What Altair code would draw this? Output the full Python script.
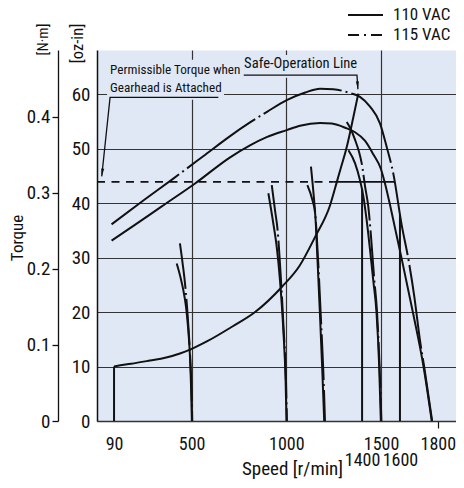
import altair as alt
import pandas as pd

FONT = "Roboto Condensed, Liberation Sans Narrow, Liberation Sans, Arial, sans-serif"
BG = "#e1e8f5"
INK = "#111111"
GRID = "#333333"

X_MAX = 1896      # r/min at right edge of plot
Y_MAX = 68.1      # oz-in at top of plot
NM_MAX = 0.4877   # N·m at top of plot

# ---- max torque curves (oz-in vs r/min) ----
HUMP110_SPEED = [77, 200, 342, 518, 703, 808, 896, 1002, 1072, 1178, 1240, 1319, 1363, 1416, 1460, 1499, 1521, 1548, 1574, 1609, 1671, 1724, 1768]
HUMP110_TORQUE = [33.1, 36.0, 39.4, 43.6, 48.4, 50.6, 52.1, 53.4, 54.2, 54.7, 54.6, 53.7, 53.0, 51.4, 48.9, 46.3, 43.6, 39.6, 35.4, 29.8, 19.5, 10.1, 0.0]
HUMP115_SPEED = [77, 250, 403, 561, 703, 808, 900, 1002, 1100, 1178, 1248, 1336, 1389, 1442, 1495, 1530, 1565, 1609, 1645, 1676, 1705, 1730, 1770]
HUMP115_TORQUE = [36.1, 40.6, 44.5, 48.6, 52.3, 54.8, 56.8, 58.9, 60.3, 61.0, 60.9, 60.2, 59.5, 57.7, 54.6, 50.3, 45.4, 36.0, 29.6, 22.8, 15.0, 9.5, 0.0]

# ---- speed-control curves ----
P500_110_SPEED = [421, 440, 456, 470, 482, 491, 497, 501]
P500_110_TORQUE = [28.9, 26.5, 24.0, 21.0, 16.7, 11.8, 6.0, 0.0]
P500_115_SPEED = [438, 452, 464, 474, 484, 492, 499, 503]
P500_115_TORQUE = [32.6, 29.0, 25.5, 21.6, 16.7, 11.8, 6.0, 0.0]

P1000_110_SPEED = [905, 931, 949, 966, 984, 996, 1001]
P1000_110_TORQUE = [41.8, 36.3, 32.0, 26.0, 16.7, 7.5, 0.0]
P1000_115_SPEED = [923, 940, 954, 968, 986, 998, 1003]
P1000_115_TORQUE = [43.3, 38.7, 35.0, 28.0, 16.7, 7.5, 0.0]

P1200_110_SPEED = [1111, 1138, 1152, 1164, 1177, 1189, 1200]
P1200_110_TORQUE = [43.3, 40.5, 38.1, 30.0, 20.0, 10.0, 0.0]
P1200_115_SPEED = [1130, 1146, 1158, 1169, 1182, 1195, 1204]
P1200_115_TORQUE = [46.7, 40.8, 35.5, 28.7, 19.2, 9.4, 0.0]

P1500_110_SPEED = [1328, 1363, 1389, 1407, 1424, 1442, 1460, 1476, 1490, 1499]
P1500_110_TORQUE = [49.7, 47.3, 44.2, 41.2, 36.9, 31.4, 25.5, 20.0, 10.3, 0.0]
P1500_115_SPEED = [1319, 1340, 1363, 1383, 1398, 1416, 1433, 1448, 1463, 1479, 1492, 1502]
P1500_115_TORQUE = [54.9, 53.6, 51.6, 49.5, 47.3, 43.0, 39.3, 33.5, 26.5, 20.0, 10.3, 0.0]

# ---- safe-operation line ----
SAFE_SPEED = [90, 104, 180, 280, 360, 438, 491, 580, 713, 835, 976, 1070, 1152, 1231, 1266, 1284, 1319, 1354, 1380]
SAFE_TORQUE = [10.0, 10.1, 10.5, 11.1, 11.6, 12.4, 13.1, 14.6, 17.3, 20.0, 24.6, 28.5, 33.8, 39.6, 43.8, 46.0, 50.3, 55.8, 60.1]

# ---- vertical lines ----
VLINE_SPEED = [90, 1400, 1600]
VLINE_TOP = [10.0, 42.6, 37.9]

# ---- permissible torque with gearhead (0.31 N·m) ----
PERM_TORQUE = 43.9
PERM_DASH_SPEED = [0, 1250]
PERM_SOLID_SPEED = [1250, 1569]

# ---- annotations ----
ANNOT_TEXT = ["Permissible Torque when", "Gearhead is Attached", "Safe-Operation Line"]
ANNOT_SPEED = [69, 69, 777]
ANNOT_TORQUE = [64.5, 61.1, 65.6]
ANNOT_SIZE = [13.2, 13.2, 14.6]
BOX_SPEED0 = [53, 53, 766]
BOX_SPEED1 = [761, 671, 1389]
BOX_TORQUE0 = [62.6, 58.95, 63.0]
BOX_TORQUE1 = [66.3, 62.6, 67.2]
LEADER_ID = ["g", "g", "g", "s", "s", "s"]
LEADER_SPEED = [641, 69, 25, 775, 1373, 1378]
LEADER_TORQUE = [59.4, 59.4, 44.9, 63.5, 63.5, 60.9]
ARROW_SPEED = [27.6, 1376.5]
ARROW_TORQUE = [45.6, 61.6]
ARROW_ANGLE = [7, 356]

LEGEND_LABELS = ["110 VAC", "115 VAC"]

X_TICKS = [90, 500, 1000, 1400, 1500, 1600, 1800]
OZ_TICKS = [0, 10, 20, 30, 40, 50, 60]
NM_TICKS = [0, 0.1, 0.2, 0.3, 0.4]

XS = alt.Scale(domain=[0, X_MAX], nice=False, zero=False)
YS = alt.Scale(domain=[0, Y_MAX], nice=False, zero=False)

XAX = alt.Axis(
    values=X_TICKS, format="d", title="Speed [r/min]", grid=True, gridColor=GRID, gridWidth=1.2,
    gridOpacity={"condition": {"test": "datum.value == 500 || datum.value == 1000 || datum.value == 1500", "value": 1}, "value": 0},
    ticks=True, tickSize=7, tickColor=INK, tickWidth=1.2,
    tickOpacity={"condition": {"test": "datum.value == 1800", "value": 1}, "value": 0},
    labelPadding={"condition": {"test": "datum.value == 1400 || datum.value == 1600", "value": 23}, "value": 7},
    labelFontSize=18, labelOverlap=False, labelFlush=False, labelBound=False,
    domain=True, domainColor=GRID, domainWidth=1.3,
    titleX=195, titleY=53, titleAlign="center", titleBaseline="alphabetic",
)
YAX = alt.Axis(
    values=OZ_TICKS, title="[oz-in]", orient="left", grid=True, gridColor=GRID, gridWidth=1.2,
    ticks=False, labelPadding=7, domain=True, domainColor=INK, domainWidth=1.5,
    titleX=-20, titleY=-7, titleAngle=270, titleAlign="center", titleBaseline="middle", titleFontSize=16.5,
)


def X(field):
    return alt.X(field, scale=XS, axis=XAX)


def Y(field):
    return alt.Y(field, scale=YS, axis=YAX)


def curve_df(name, speeds, torques):
    return pd.DataFrame({"curve": name, "speed": speeds, "torque": torques,
                         "i": list(range(len(speeds)))})


solid_df = pd.concat([
    curve_df("h110", HUMP110_SPEED, HUMP110_TORQUE),
    curve_df("p500", P500_110_SPEED, P500_110_TORQUE),
    curve_df("p1000", P1000_110_SPEED, P1000_110_TORQUE),
    curve_df("p1200", P1200_110_SPEED, P1200_110_TORQUE),
    curve_df("p1500", P1500_110_SPEED, P1500_110_TORQUE),
])
dashpair_df = pd.concat([
    curve_df("q500", P500_115_SPEED, P500_115_TORQUE),
    curve_df("q1000", P1000_115_SPEED, P1000_115_TORQUE),
    curve_df("q1200", P1200_115_SPEED, P1200_115_TORQUE),
    curve_df("q1500", P1500_115_SPEED, P1500_115_TORQUE),
])
hump115_df = curve_df("h115", HUMP115_SPEED, HUMP115_TORQUE)
safe_df = curve_df("safe", SAFE_SPEED, SAFE_TORQUE)


def lines(df, dash=None, width=2.0, interp="monotone"):
    kw = dict(color=INK, strokeWidth=width, interpolate=interp, strokeCap="butt")
    if dash:
        kw["strokeDash"] = dash
    return alt.Chart(df).mark_line(**kw).encode(
        x=X("speed:Q"), y=Y("torque:Q"), detail="curve:N", order="i:Q")


boxes = alt.Chart(pd.DataFrame({"speed": BOX_SPEED0, "s1": BOX_SPEED1, "torque": BOX_TORQUE0, "t1": BOX_TORQUE1})).mark_rect(
    fill=BG).encode(x=X("speed:Q"), x2="s1:Q", y=Y("torque:Q"), y2="t1:Q")

vlines = alt.Chart(pd.DataFrame({"speed": VLINE_SPEED, "t1": VLINE_TOP, "torque": [0] * len(VLINE_SPEED)})).mark_rule(
    color=INK, strokeWidth=2).encode(x=X("speed:Q"), y=Y("torque:Q"), y2="t1:Q")

perm_dash = alt.Chart(pd.DataFrame({"speed": PERM_DASH_SPEED, "torque": PERM_TORQUE, "i": [0, 1]})).mark_line(
    color=INK, strokeWidth=1.7, strokeDash=[8, 6.5]).encode(x=X("speed:Q"), y=Y("torque:Q"), order="i:Q")
perm_solid = alt.Chart(pd.DataFrame({"speed": PERM_SOLID_SPEED, "torque": PERM_TORQUE, "i": [0, 1]})).mark_line(
    color=INK, strokeWidth=1.7).encode(x=X("speed:Q"), y=Y("torque:Q"), order="i:Q")

leaders = alt.Chart(pd.DataFrame({"curve": LEADER_ID, "speed": LEADER_SPEED, "torque": LEADER_TORQUE,
                                  "i": list(range(len(LEADER_ID)))})).mark_line(color=INK, strokeWidth=1.3).encode(
    x=X("speed:Q"), y=Y("torque:Q"), detail="curve:N", order="i:Q")

arrows = alt.Chart(pd.DataFrame({"speed": ARROW_SPEED, "torque": ARROW_TORQUE, "angle": ARROW_ANGLE})).mark_point(
    shape="M-0.38,-1L0.38,-1L0,1Z", filled=True, color=INK, opacity=1, size=64).encode(
    x=X("speed:Q"), y=Y("torque:Q"), angle=alt.Angle("angle:Q", scale=None))

texts = alt.Chart(pd.DataFrame({"speed": ANNOT_SPEED, "torque": ANNOT_TORQUE, "label": ANNOT_TEXT,
                                "fs": ANNOT_SIZE})).mark_text(
    align="left", baseline="middle", font=FONT, color=INK).encode(
    x=X("speed:Q"), y=Y("torque:Q"), text="label:N", size=alt.Size("fs:Q", scale=None))

torque_title = alt.Chart(pd.DataFrame({"label": ["Torque"]})).mark_text(
    angle=270, align="center", baseline="middle", font=FONT, fontSize=17, color=INK).encode(
    x=alt.value(-79), y=alt.value(188), text="label:N")

inner = alt.layer(
    boxes,
    vlines,
    perm_dash,
    perm_solid,
    lines(safe_df),
    lines(solid_df),
    lines(dashpair_df, dash=[46, 4, 2, 4]),
    lines(hump115_df, dash=[84, 4, 2, 4]),
    leaders,
    arrows,
    texts,
    torque_title,
)

legend_df = pd.DataFrame({"voltage": LEGEND_LABELS, "speed": [0, 0], "nm": [0, 0]})
legend_layer = alt.Chart(legend_df).mark_line(color=INK, strokeWidth=2).encode(
    x=X("speed:Q"),
    y=alt.Y("nm:Q", scale=alt.Scale(domain=[0, NM_MAX], nice=False, zero=False),
            axis=alt.Axis(values=NM_TICKS, format=".1~f", orient="left", offset=39, grid=False,
                          ticks=True, tickSize=6, tickWidth=1.3, tickColor=INK, labelPadding=2,
                          domain=True, domainColor=INK, domainWidth=1.3, title="[N·m]", titleFontSize=15,
                          titleX=-16, titleY=-11, titleAngle=270, titleAlign="center", titleBaseline="middle")),
    strokeDash=alt.StrokeDash("voltage:N",
                              scale=alt.Scale(domain=LEGEND_LABELS, range=[[1, 0], [11, 5, 2, 5]]),
                              legend=alt.Legend(title=None, orient="none", legendX=250, legendY=-45,
                                                symbolType="stroke", symbolSize=1225, symbolStrokeWidth=2,
                                                symbolStrokeColor=INK, clipHeight=20, rowPadding=0,
                                                labelFontSize=17, labelFont=FONT, labelColor=INK,
                                                labelOffset=9, padding=0)),
)

chart = alt.layer(inner, legend_layer).resolve_scale(y="independent").properties(
    width=359, height=371,
    padding={"left": 89, "top": 42, "right": 0, "bottom": 59},
    autosize=alt.AutoSizeParams(type="none"),
    background="white",
).configure_view(
    fill=BG, stroke="transparent"
).configure_axis(
    labelFont=FONT, labelFontSize=19, labelColor=INK,
    titleFont=FONT, titleFontSize=19, titleFontWeight="normal", titleColor=INK,
)

chart.save("out.html", embed_options={"renderer": "svg", "actions": False})
